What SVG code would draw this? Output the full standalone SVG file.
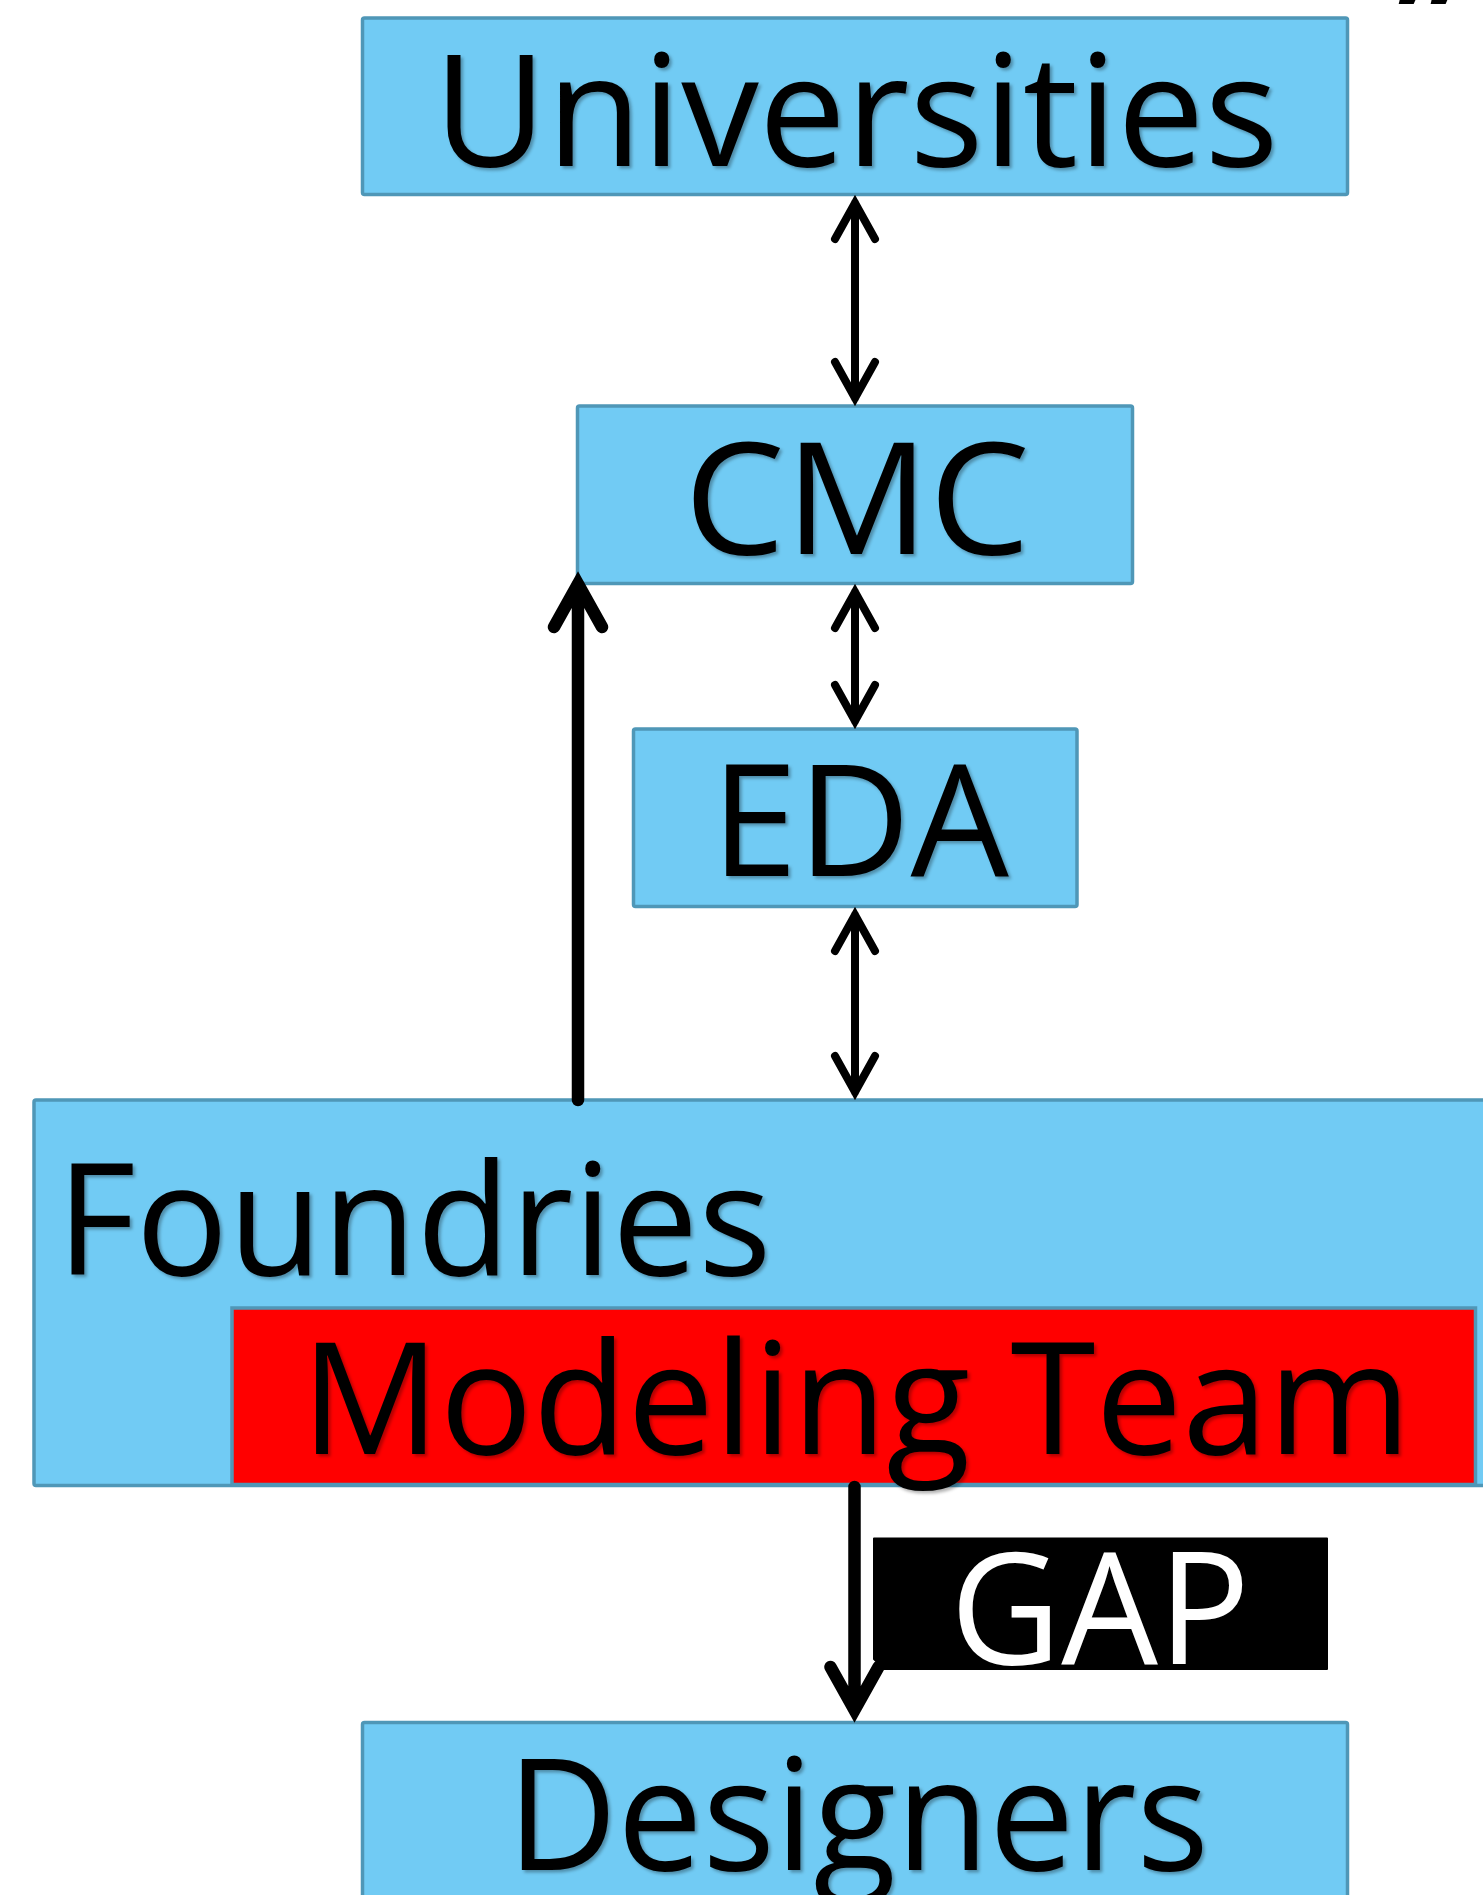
<svg xmlns="http://www.w3.org/2000/svg" width="1483" height="1895" viewBox="0 0 1483 1895">
  <defs>
    <filter id="tshadow" x="-5%" y="-5%" width="110%" height="115%">
      <feDropShadow dx="2.5" dy="2.5" stdDeviation="1.5" flood-color="#000" flood-opacity="0.3"/>
    </filter>
    <style>
      .box { fill: #71CBF4; stroke: #4F97B7; stroke-width: 3.5; }
      .red { fill: #FF0000; stroke: #4F97B7; stroke-width: 3.5; }
      .lbl { font-family: "Open Sans", "Noto Sans", "Liberation Sans", sans-serif; font-size: 155px; fill: #000; text-anchor: middle; filter: url(#tshadow); }
      .gap { font-family: "Open Sans", "Noto Sans", "Liberation Sans", sans-serif; font-size: 155px; fill: #fff; text-anchor: middle; }
      .arr { fill: none; stroke: #000; stroke-width: 8; stroke-linecap: round; stroke-linejoin: miter; }
      .arrb { fill: none; stroke: #000; stroke-width: 12.5; stroke-linecap: round; stroke-linejoin: miter; }
    </style>
  </defs>
  <rect width="1483" height="1895" fill="#fff"/>

  <text x="1397" y="70" font-family="Open Sans, sans-serif" font-size="140" font-weight="bold" fill="#000">”</text>

  <g id="universities">
    <rect class="box" x="362.5" y="18" width="985" height="176.5" rx="2"/>
    <text class="lbl" x="856" y="165.5" textLength="845" lengthAdjust="spacingAndGlyphs">Universities</text>
  </g>

  <g id="cmc">
    <rect class="box" x="577.5" y="406" width="555" height="177.5" rx="2"/>
    <text class="lbl" x="857" y="553.5" textLength="346" lengthAdjust="spacingAndGlyphs">CMC</text>
  </g>

  <g id="eda">
    <rect class="box" x="633.5" y="729" width="443.5" height="177.5" rx="2"/>
    <text class="lbl" x="860" y="876" textLength="298" lengthAdjust="spacingAndGlyphs">EDA</text>
  </g>

  <g id="foundries">
    <rect class="box" x="34" y="1100" width="1470" height="385.5" rx="2"/>
    <text class="lbl" x="414" y="1275" textLength="715" lengthAdjust="spacingAndGlyphs">Foundries</text>
  </g>

  <g id="modeling-team">
    <rect class="red" x="232" y="1308" width="1243.5" height="176.5"/>
    <text class="lbl" x="856" y="1454" textLength="1110" lengthAdjust="spacingAndGlyphs">Modeling Team</text>
  </g>

  <g id="designers">
    <rect class="box" x="362.5" y="1722.5" width="985" height="200" rx="2"/>
    <text class="lbl" x="858" y="1870" textLength="702" lengthAdjust="spacingAndGlyphs">Designers</text>
  </g>

  <g id="gap">
    <path d="M874,1538.5 H1327 V1669 H884 L874,1659 Z" fill="#000" stroke="#000" stroke-width="2" stroke-linejoin="round"/>
    <text class="gap" x="1100" y="1664" textLength="300" lengthAdjust="spacingAndGlyphs">GAP</text>
  </g>

  <g id="connectors">
    <!-- Universities <-> CMC -->
    <path class="arr" d="M855,203 V398 M835,239 L855,203 L875,239 M835,362 L855,398 L875,362"/>
    <!-- CMC <-> EDA -->
    <path class="arr" d="M855,592 V721 M835,628 L855,592 L875,628 M835,685 L855,721 L875,685"/>
    <!-- EDA <-> Foundries -->
    <path class="arr" d="M855,915 V1092 M835,951 L855,915 L875,951 M835,1056 L855,1092 L875,1056"/>
    <!-- Foundries -> CMC -->
    <path class="arrb" d="M578,1100 V584 M554,627 L578,584 L602,627"/>
    <!-- Foundries -> Designers -->
    <path class="arrb" d="M854.5,1487 V1710 M830.5,1667 L854.5,1710 L878.5,1667"/>
  </g>
</svg>
